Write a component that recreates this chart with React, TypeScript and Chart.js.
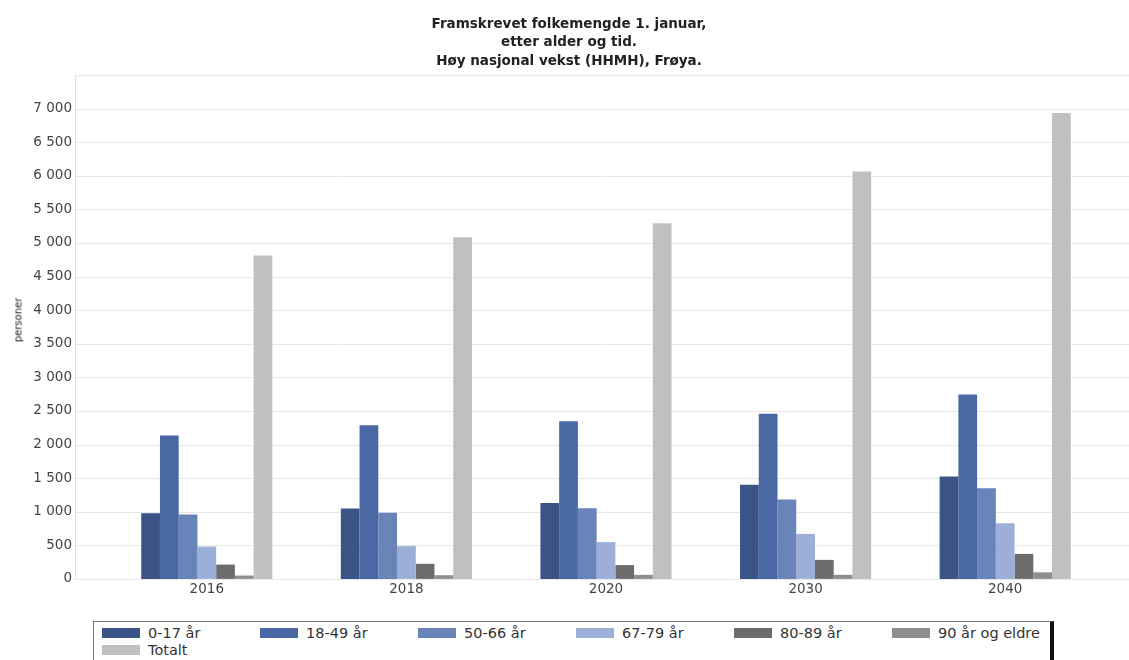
import React, { useEffect, useRef } from "react";
import { Chart, registerables } from "chart.js";

Chart.register(...registerables);

const categories = ["2016", "2018", "2020", "2030", "2040"];
const seriesLabels = ["0-17 år", "18-49 år", "50-66 år", "67-79 år", "80-89 år", "90 år og eldre", "Totalt"];
const seriesColors = ["#3b5488", "#4a68a4", "#6884b9", "#9bafd7", "#6c6c6c", "#8f8f8f", "#c0c0c0"];
const age0_17 = [977, 1049, 1128, 1400, 1525];
const age18_49 = [2135, 2288, 2348, 2457, 2745];
const age50_66 = [958, 983, 1053, 1181, 1350];
const age67_79 = [481, 488, 548, 670, 828];
const age80_89 = [213, 225, 205, 283, 372];
const age90plus = [50, 55, 60, 60, 98];
const totalt = [4815, 5085, 5294, 6065, 6935];
const seriesValues = [age0_17, age18_49, age50_66, age67_79, age80_89, age90plus, totalt];

const titleLines = ["Framskrevet folkemengde 1. januar,", "etter alder og tid.", "Høy nasjonal vekst (HHMH), Frøya."];
const yAxisTitle = "personer";

const FONT = "'DejaVu Sans', 'Liberation Sans', Arial, sans-serif";

const gridPlugin = {
  id: "extGrid",
  beforeDatasetsDraw(chart: any) {
    const { ctx, scales, chartArea } = chart;
    const y = scales.y;
    const leftX = 75.5;
    const rightX = chart.width;
    ctx.save();
    ctx.lineWidth = 1;
    ctx.strokeStyle = "#e8e8e8";
    y.ticks.forEach((t: any) => {
      const py = Math.round(y.getPixelForValue(t.value)) + 0.5;
      ctx.beginPath();
      ctx.moveTo(leftX, py);
      ctx.lineTo(rightX, py);
      ctx.stroke();
    });
    ctx.strokeStyle = "#e2e2e2";
    ctx.beginPath();
    ctx.moveTo(leftX, chartArea.top);
    ctx.lineTo(leftX, Math.round(chartArea.bottom) + 0.5);
    ctx.stroke();
    ctx.restore();
  },
};

export default function App() {
  const ref = useRef<HTMLCanvasElement | null>(null);

  useEffect(() => {
    document.body.style.margin = "0";
    const canvas = ref.current;
    if (!canvas) return;
    const chart = new Chart(canvas, {
      type: "bar",
      data: {
        labels: categories,
        datasets: seriesValues.map((vals, i) => ({
          label: seriesLabels[i],
          data: vals,
          backgroundColor: seriesColors[i],
          borderWidth: 0,
          barPercentage: 1,
          categoryPercentage: 0.657,
        })),
      },
      options: {
        animation: false,
        responsive: true,
        maintainAspectRatio: false,
        layout: { padding: { top: 75, left: 0, right: 24, bottom: 0 } },
        plugins: {
          legend: { display: false },
          title: { display: false },
          tooltip: { enabled: false },
        },
        scales: {
          x: {
            grid: { display: false, drawTicks: false },
            border: { display: false },
            ticks: {
              color: "#444",
              font: { family: FONT, size: 13.5 },
              padding: 2,
              maxRotation: 0,
            },
            afterFit: (s: any) => {
              s.height = 21;
            },
          },
          y: {
            min: 0,
            max: 7500,
            grid: { display: false, drawTicks: false },
            border: { display: false },
            ticks: {
              stepSize: 500,
              color: "#444",
              font: { family: FONT, size: 13.5 },
              padding: 35,
              callback: (v: any) => {
                const n = Number(v);
                if (n >= 7500) return "";
                return n.toLocaleString("en-US").replace(/,/g, " ");
              },
            },
            afterFit: (s: any) => {
              s.width = 107;
            },
          },
        },
      },
      plugins: [gridPlugin],
    });
    return () => chart.destroy();
  }, []);

  return (
    <div style={{ position: "fixed", left: 0, top: 0, width: 1129, height: 660, background: "#fff", overflow: "hidden" }}>
      <div style={{ position: "absolute", left: 0, top: 0, width: 1129, height: 622 }}>
        <canvas ref={ref} />
      </div>
      <div
        style={{
          position: "absolute",
          left: 0,
          top: 14,
          width: 1138,
          textAlign: "center",
          fontFamily: FONT,
          fontWeight: "bold",
          fontSize: 13.5,
          lineHeight: "18.3px",
          color: "#222",
        }}
      >
        {titleLines.map((l, i) => (
          <div key={i}>{l}</div>
        ))}
      </div>
      <div
        style={{
          position: "absolute",
          left: 18,
          top: 320,
          transform: "translate(-50%, -50%) rotate(-90deg)",
          fontFamily: FONT,
          fontSize: 10,
          color: "#222",
          whiteSpace: "nowrap",
        }}
      >
        {yAxisTitle}
      </div>
      <div
        style={{
          position: "absolute",
          left: 93,
          top: 621,
          width: 961,
          height: 45,
          border: "1px solid #777",
          borderRight: "4px solid #111",
          boxSizing: "border-box",
          background: "#fff",
        }}
      >
        {seriesLabels.map((lab, i) => {
          const col = i % 6;
          const row = Math.floor(i / 6);
          return (
            <div
              key={lab}
              style={{
                position: "absolute",
                left: 8 + col * 158,
                top: 4 + row * 17,
                height: 14,
                display: "flex",
                alignItems: "center",
                whiteSpace: "nowrap",
              }}
            >
              <div style={{ width: 38, height: 10, background: seriesColors[i], marginRight: 8 }} />
              <span style={{ fontFamily: FONT, fontSize: 14.5, color: "#333", lineHeight: "14px" }}>{lab}</span>
            </div>
          );
        })}
      </div>
    </div>
  );
}
